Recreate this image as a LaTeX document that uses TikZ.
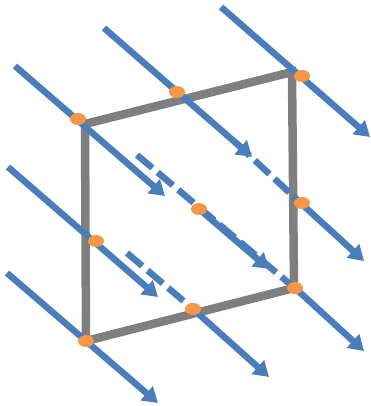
\documentclass[tikz,border=0pt]{standalone}
\usepackage{xcolor}
\usetikzlibrary{arrows.meta,shapes.geometric}
\definecolor{rayblue}{HTML}{4A7EBB}
\definecolor{framegray}{HTML}{7F7F7F}
\definecolor{hitorange}{HTML}{F79646}

\begin{document}
\begin{tikzpicture}[
  x=1pt, y=-1pt,
  framebar/.style={draw=framegray, line width=8.5pt, line join=miter},
  rayline/.style={draw=rayblue, line width=6.5pt, -{Triangle[length=15pt,width=18pt]}},
  raydash/.style={draw=rayblue, line width=6.5pt, dash pattern=on 20pt off 7pt},
  hitdot/.style={ellipse, fill=hitorange, inner sep=0pt, minimum width=16pt, minimum height=12pt},
]
\useasboundingbox (0,0) rectangle (371,406);
% frame corners
\coordinate (ctl) at (85,124);
\coordinate (ctr) at (292,72);
\coordinate (cbr) at (294,288);
\coordinate (cbl) at (86,341);
% free ends of the rays
\foreach \nm/\x/\y in {%
  s1/15/66, t1/165/196,
  s2/104/28, t2/252/157,
  s3/221/7, t3/370/137,
  s4/8/167, t4/158/297,
  s5/7/273, t5/158/403,
  s6/293/196, t6/364/261,
  s7/199/209, t7/269/269,
  s8/193/309, t8/269/377,
  s9/295/288, t9/364/351,
  d1/137/155, d2/291/285,
  d3/235/142, d4/293/196,
  d5/127/253, d6/193/309%
} {
  \coordinate (\nm) at (\x,\y);
}

\draw[framebar] (ctl) -- (ctr) -- (cbr) -- (cbl) -- cycle;

% dashed parts first, solid rays over them
\draw[raydash] (d1) -- (d2);
\draw[raydash] (d3) -- (d4);
\draw[raydash] (d5) -- (d6);
\foreach \i in {1,...,9} {
  \draw[rayline] (s\i) -- (t\i);
}

\node[hitdot] (hitA) at (78,119) {};
\node[hitdot] (hitB) at (177,92) {};
\node[hitdot] (hitC) at (302,76) {};
\node[hitdot] (hitD) at (302,203) {};
\node[hitdot] (hitE) at (199,209) {};
\node[hitdot] (hitF) at (96,241) {};
\node[hitdot] (hitG) at (295,288) {};
\node[hitdot] (hitH) at (193,309) {};
\node[hitdot] (hitI) at (86,341) {};
\end{tikzpicture}
\end{document}
